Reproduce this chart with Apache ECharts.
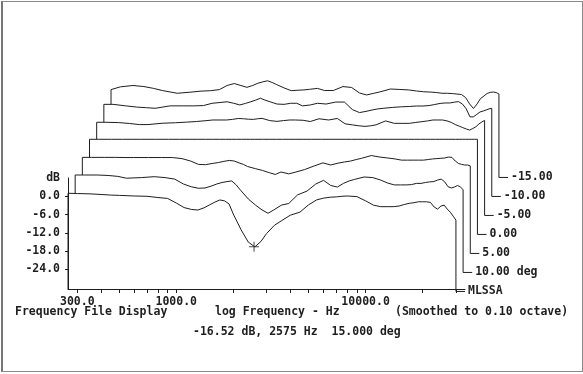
<!DOCTYPE html>
<html><head><meta charset="utf-8">
<script src="https://cdn.jsdelivr.net/npm/echarts@6/dist/echarts.min.js"></script>
<style>
html,body{margin:0;padding:0;background:#fff;}
#frame{position:absolute;left:1px;top:1px;width:579px;height:369px;border:1px solid #8a8a8a;border-left:2px solid #777;}
#c{position:absolute;left:0;top:0;width:583px;height:374px;}
</style></head>
<body><div id="frame"></div><div id="c"></div>
<script>
// ---- data ----
const freqs = [268,300,350,400,450,500,600,700,800,900,1000,1100,1200,1300,1400,1500,1600,1700,1800,1900,2000,2200,2400,2600,2800,3000,3300,3600,4000,4500,5000,5500,6000,6500,7000,7500,8000,9000,10000,11000,12000,13000,14000,15000,16000,17000,18000,19000,20000,21000,22000,23000,24000,25000,26000,27000,28000,29000,30000];
const trace15 = [1.0,0.9,0.8,0.6,0.4,0.3,0.1,0,-0.4,-0.7,-2.2,-3.7,-4.3,-4.5,-3.8,-2.8,-1.9,-1.2,-1.5,-2.5,-5.8,-11,-15,-16.6,-14.8,-12.2,-9.5,-8,-6.2,-5.2,-2.8,-1.2,-0.6,-0.3,-0.2,0,0.1,-0.1,-1.5,-2.9,-3.4,-3.4,-3.4,-3.2,-2.7,-2.3,-2.1,-1.8,-1.8,-1.8,-2.0,-3.5,-4.2,-3.2,-2.9,-4.2,-5.2,-6.5,-7.8];
const trace10 = [0.75,0.75,0.75,0.6,0.3,-0.3,-0.1,0.2,-0.1,-0.6,-2.2,-3.1,-3.6,-3.5,-2.9,-2.2,-1.7,-1.4,-1.2,-2.5,-4.2,-7.1,-9.1,-10.7,-11.8,-10.7,-9.1,-8.6,-5.8,-4.5,-2.2,-1.0,-2.7,-3.2,-2.0,-1.2,-0.7,0.1,-0.1,-0.9,-1.9,-2.5,-2.5,-2.5,-2.4,-2.0,-2.0,-1.7,-1.5,-1.4,-0.9,-0.6,-1.5,-3.1,-3.5,-3.2,-2.7,-3.1,-4.1];
const trace5 = [0.3,0.3,0.3,0.3,0.25,0.25,0.25,0.25,0.25,-0.1,-0.9,-2.0,-2.1,-1.7,-1.4,-1.0,-0.7,-0.9,-1.5,-2.0,-2.7,-3.4,-4.0,-4.7,-5.3,-4.5,-5.1,-4.5,-3.7,-2.5,-1.5,-2.2,-1.6,-1.2,-0.9,-0.4,0,0.9,0.4,0.1,-0.2,-0.6,-0.6,-0.6,-0.6,-0.6,-0.4,-0.2,-0.1,0,0.1,0.4,0.3,-0.9,-1.7,-2.0,-2.2,-2.2,-2.5];
const trace0 = [0,0,0,0,0,0,0,0,0,0,0,0,0,0,0,0,0,0,0,0,0,0,0,0,0,0,0,0,0,0,0,0,0,0,0,0,0,0,0,0,0,0,0,0,0,0,0,0,0,0,0,0,0,0,0,0,0,0,0];
const traceM5 = [-0.65,-0.65,-0.75,-1.05,-1.4,-1.4,-0.95,-0.8,-0.6,-0.4,-0.15,0.1,0.1,0.1,0.3,0.6,0.5,0.35,0.3,0.5,0.65,-0.1,-0.35,-0.1,0.1,0.1,0,-0.4,0.5,0.1,0.6,-1.15,-1.5,-1.8,-2.0,-1.8,-1.5,-0.2,-1.0,-1.0,-1.0,-0.7,-0.45,-0.2,0.1,0.1,0.1,-0.2,-0.7,-1.4,-1.9,-2.4,-2.85,-3.2,-2.7,-2.1,-1.2,-0.55,-0.05];
const traceM10 = [-1.0,-1.0,-1.5,-1.9,-2.1,-2.3,-1.5,-1.5,-1.5,-1.4,-0.65,-0.4,-0.15,-0.65,-1.2,-0.7,-0.15,0.4,1.0,0.4,-0.05,-0.9,-1.0,-0.65,-0.65,-1.5,-1.2,-0.65,-0.9,-0.25,-0.25,-2.7,-3.7,-3.3,-2.85,-2.5,-2.3,-2.0,-1.8,-1.7,-1.55,-1.55,-1.4,-1.05,-0.7,-0.55,-0.55,-0.3,-0.1,-0.9,-2.5,-5.1,-5.1,-4.3,-3.5,-3.2,-2.85,-2.5,-2.3];
const traceM15 = [-2.4,-1.5,-1.05,-1.4,-2.0,-2.7,-3.6,-3.25,-2.9,-2.75,-2.4,-1.05,-0.4,-1.05,-1.65,-1.05,-0.3,0.15,0.5,-0.05,-0.7,-1.85,-2.75,-2.6,-2.5,-2.3,-2.0,-2.7,-2.7,-1.4,-1.7,-3.5,-4.15,-3.65,-3.2,-2.7,-2.2,-2.35,-2.5,-2.85,-3.1,-3.2,-3.35,-3.6,-3.6,-3.7,-3.85,-4.0,-5.0,-7.1,-8.6,-7.1,-5.3,-4.5,-3.65,-3.3,-3.2,-3.35,-3.85];
const traces = [trace15, trace10, trace5, trace0, traceM5, traceM10, traceM15];
const traceLabels = ['MLSSA', '10.00 deg', '5.00', '0.00', '-5.00', '-10.00', '-15.00'];
const xTickFreqs = [300,400,500,600,700,800,900,1000,2000,3000,4000,5000,6000,7000,8000,9000,10000,20000,30000];
const xLabelFreqs = [300,1000,10000];
const yTicks = [0,-6,-12,-18,-24];
const yLabels = [6,0,-6,-12,-18,-24];
const cursorPoint = [2575, -16.52];
const fMin = 268, fMax = 30000, fLead = 33500;
const yMin = -30.4, yMax = 6, yBase = -31.2;

// ---- layout ----
const L0 = 68, W = 397, T0 = 178, H = 111, DX = 7.17, DY = 19;
const FONT = 'DejaVu Sans Mono';
const INK = '#1e1e1e';

const grids = [], xAxes = [], yAxes = [], series = [];
traces.forEach((vals, k) => {
  grids.push({left: L0 + DX * k, top: T0 - DY * k, width: W, height: H, containLabel: false});
  xAxes.push({type: 'log', gridIndex: k, min: fMin, max: fLead, show: false});
  yAxes.push({type: 'value', gridIndex: k, min: yMin, max: yMax, show: false, splitLine: {show: false}});
  const data = [[freqs[0], yMin]];
  freqs.forEach((f, i) => data.push([f, vals[i]]));
  data.push([freqs[freqs.length - 1], yBase]);
  data.push([fLead, yBase]);
  series.push({
    type: 'line', xAxisIndex: k, yAxisIndex: k, data: data, symbol: 'none',
    clip: false, z: 20 - k, silent: true,
    lineStyle: {color: INK, width: 1},
    areaStyle: {color: '#ffffff', opacity: 1, origin: 'start'},
    endLabel: {show: true, formatter: traceLabels[k], distance: 3, color: INK,
      fontFamily: FONT, fontSize: 11.5, fontWeight: 'bold'}
  });
});

// visible decorative axes on the front grid
xAxes.push({
  type: 'value', gridIndex: 0, position: 'bottom', z: 40,
  min: Math.log10(fMin), max: Math.log10(fLead),
  axisLine: {show: true, onZero: false, lineStyle: {color: INK, width: 1}},
  axisTick: {show: true, inside: false, length: 4, customValues: xTickFreqs.map(Math.log10), lineStyle: {color: INK}},
  axisLabel: {show: true, margin: 7, customValues: xLabelFreqs.map(Math.log10),
    formatter: v => Math.pow(10, v).toFixed(1), color: INK, fontFamily: FONT, fontSize: 11.5, fontWeight: 'bold'},
  splitLine: {show: false}
});
yAxes[0] = {
  type: 'value', gridIndex: 0, min: yMin, max: yMax, z: 40, position: 'left',
  axisLine: {show: true, onZero: false, lineStyle: {color: INK, width: 1}},
  axisTick: {show: true, length: 3, customValues: yTicks, lineStyle: {color: INK}},
  axisLabel: {show: true, margin: 8, customValues: yLabels,
    formatter: v => (v === 6 ? 'dB' : v.toFixed(1)), color: INK, fontFamily: FONT, fontSize: 11.5, fontWeight: 'bold'},
  splitLine: {show: false}
};

series.push({
  type: 'scatter', xAxisIndex: 0, yAxisIndex: 0, data: [cursorPoint], z: 45, silent: true,
  symbol: 'path://M4.5,0h1v10h-1zM0,4.5h10v1h-10z', symbolSize: 10,
  itemStyle: {color: INK}
});

const txt = (x, y, s) => ({type: 'text', left: x, top: y, z: 50, silent: true,
  style: {text: s, fill: INK, font: 'bold 11.5px "' + FONT + '"', textVerticalAlign: 'middle'}});

const chart = echarts.init(document.getElementById('c'), null, {renderer: 'canvas'});
chart.setOption({
  animation: false,
  backgroundColor: 'transparent',
  grid: grids, xAxis: xAxes, yAxis: yAxes, series: series,
  graphic: [
    txt(15, 306, 'Frequency File Display'),
    txt(215, 306, 'log Frequency - Hz'),
    txt(395, 306, '(Smoothed to 0.10 octave)'),
    txt(193, 326, '-16.52 dB, 2575 Hz  15.000 deg')
  ]
});
</script></body></html>
